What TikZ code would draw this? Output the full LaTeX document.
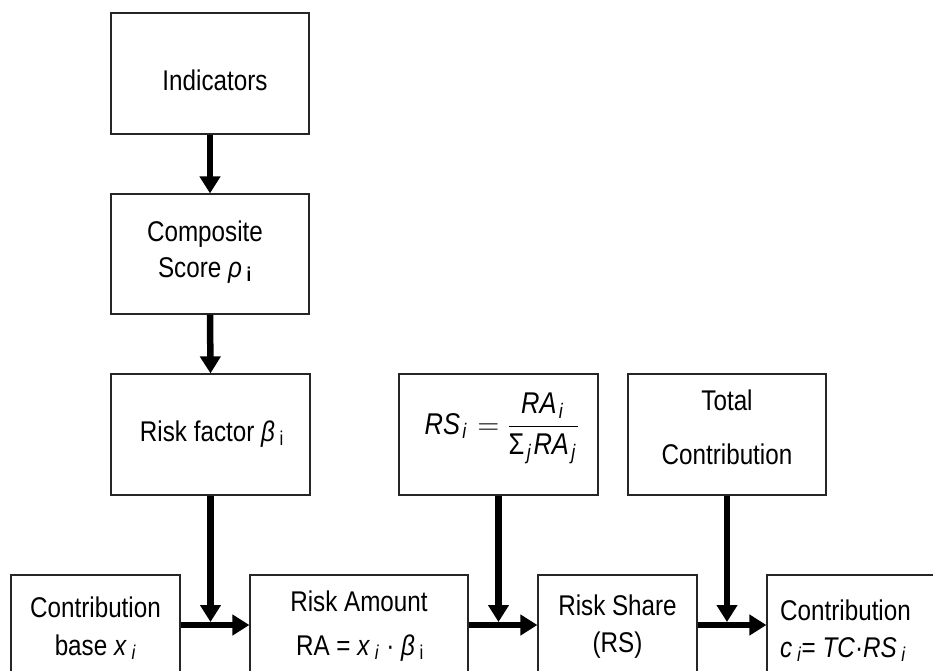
\RequirePackage{fix-cm}
\documentclass[tikz,border=0pt]{standalone}
\usepackage{amsmath}
\usepackage{fontspec}
\setmainfont{Liberation Sans}[FakeStretch=0.85]
\usetikzlibrary{arrows.meta}
\newcommand\mi[1]{\text{\itshape #1}}
\newcommand\sbi[1]{_{\mkern2mu\mi{#1}\mkern2mu}}
\begin{document}
\begin{tikzpicture}[x=1pt,y=-1pt,
  box/.style={draw=black!85, line width=1.2pt, inner sep=0pt, fill=white},
  txt/.style={inner sep=0pt, font=\fontsize{28.5}{34}\selectfont},
  arr/.style={line width=6.5pt, -{Triangle[length=17pt,width=20pt]}}]
\useasboundingbox (0,0) rectangle (933,670);
\clip (0,0) rectangle (933,670);
\fill[white] (0,0) rectangle (933,670);

% boxes
\node[box, minimum width=198pt, minimum height=121pt] (ind) at (210,73.5) {};
\node[box, minimum width=198pt, minimum height=120pt] (comp) at (210,254) {};
\node[box, minimum width=199pt, minimum height=121pt] (rf) at (210.5,434.5) {};
\node[box, minimum width=199pt, minimum height=121pt] (rsf) at (498.5,434.5) {};
\node[box, minimum width=198pt, minimum height=121pt] (tc) at (727,434.5) {};
\node[box, minimum width=169pt, minimum height=120pt] (cb) at (95.5,635) {};
\node[box, minimum width=218pt, minimum height=120pt] (ra) at (359,635) {};
\node[box, minimum width=159pt, minimum height=120pt] (rsh) at (617.5,635) {};
\node[box, minimum width=180pt, minimum height=120pt] (con) at (857,635) {};

% texts
\node[txt, anchor=base] (indt) at (215,90) {Indicators};
\node[txt, anchor=base] (compt1) at (205,241) {Composite};
\node[txt, anchor=base] (compt2) at (205,277) {Score \textit{ρ}\,\textsubscript{\textbf{i}}};
\node[txt, anchor=base] (rft) at (212,441) {Risk factor \textit{β}\,\textsubscript{i}};
\node[txt, anchor=base, font=\fontsize{30}{36}\selectfont] (rsft) at (502,434) {$\mi{RS}\sbi{i} = \dfrac{\mi{RA}\sbi{i}}{\text{Σ}\sbi{j}\mi{RA}\sbi{j}}$};
\node[txt, anchor=base] (tct1) at (727,410) {Total};
\node[txt, anchor=base] (tct2) at (727,464) {Contribution};
\node[txt, anchor=base] (cbt1) at (95.5,617) {Contribution};
\node[txt, anchor=base] (cbt2) at (95.5,655) {base \textit{x}\,\textsubscript{\textit{i}}};
\node[txt, anchor=base] (rat1) at (359,611) {Risk Amount};
\node[txt, anchor=base] (rat2) at (360,655) {RA = \textit{x}\,\textsubscript{\textit{i}} · \textit{β}\,\textsubscript{i}};
\node[txt, anchor=base] (rsht1) at (617.5,615) {Risk Share};
\node[txt, anchor=base] (rsht2) at (617.5,652) {(RS)};
\node[txt, anchor=base west] (cont1) at (780,620) {Contribution};
\node[txt, anchor=base west] (cont2) at (780,657) {\textit{c}\,\textsubscript{\textit{i}}= \textit{TC}·\textit{RS}\,\textsubscript{\textit{i}}};

% junction points
\coordinate (row) at (0,625);
\coordinate (j1) at (210.5,622);
\coordinate (j2) at (498.5,622);
\coordinate (j3) at (727,622);

% arrows
\draw[arr] (ind.south) -- (comp.north);
\draw[arr] (comp.south) -- (rf.north);
\draw[arr] (cb.east |- row) -- (ra.west |- row);
\draw[arr] (ra.east |- row) -- (rsh.west |- row);
\draw[arr] (rsh.east |- row) -- (con.west |- row);
\draw[arr] (rf.south) -- (j1);
\draw[arr] (rsf.south) -- (j2);
\draw[arr] (tc.south) -- (j3);
\end{tikzpicture}
\end{document}
